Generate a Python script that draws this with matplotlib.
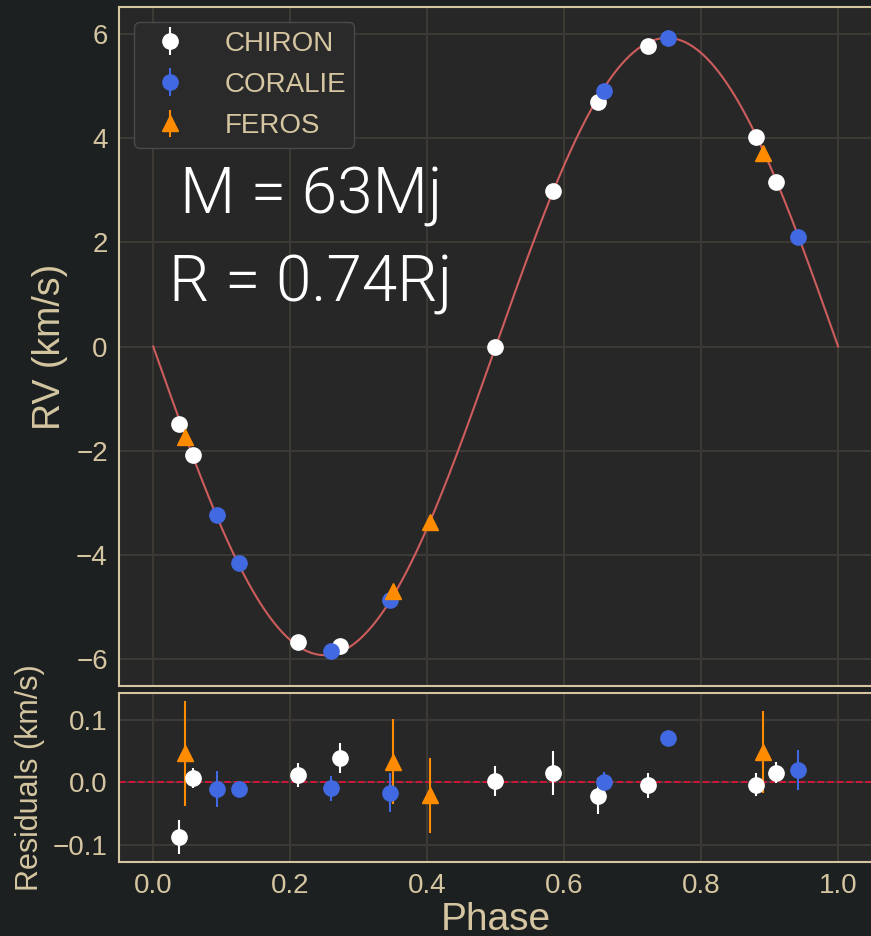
import numpy as np
import matplotlib
matplotlib.use("Agg")
import matplotlib.pyplot as plt

# 🔹 Colours
fig_bg = "#1d2021"
ax_bg = "#272727"
grid_c = "#3d3a36"
beige = "#d5c6a1"

plt.rcParams['font.family'] = ['Liberation Sans', 'DejaVu Sans']

# 🔹 Data
chiron_phase = [0.038, 0.058, 0.212, 0.272, 0.499, 0.584, 0.649, 0.723, 0.880, 0.909]
chiron_rv = [-1.49, -2.09, -5.67, -5.74, 0.00, 2.98, 4.69, 5.76, 4.01, 3.16]
chiron_res = [-0.088, 0.006, 0.012, 0.039, 0.002, 0.015, -0.022, -0.005, -0.004, 0.015]
chiron_err = [0.027, 0.016, 0.019, 0.024, 0.024, 0.035, 0.029, 0.020, 0.018, 0.017]

coralie_phase = [0.093, 0.125, 0.259, 0.345, 0.658, 0.752, 0.941]
coralie_rv = [-3.24, -4.15, -5.84, -4.86, 4.91, 5.91, 2.11]
coralie_res = [-0.011, -0.011, -0.010, -0.017, 0.000, 0.070, 0.020]
coralie_err = [0.029, 0.008, 0.020, 0.031, 0.016, 0.006, 0.032]

feros_phase = [0.047, 0.350, 0.404, 0.890]
feros_rv = [-1.73, -4.69, -3.37, 3.71]
feros_res = [0.046, 0.033, -0.021, 0.048]
feros_err = [0.084, 0.068, 0.060, 0.065]

# model: circular orbit, semi-amplitude in km/s
K = 5.92
model_phase = np.linspace(0, 1, 500)
model_rv = -K * np.sin(2 * np.pi * model_phase)

series = [
    ("CHIRON", chiron_phase, chiron_rv, chiron_res, chiron_err, "white", "o", 11),
    ("CORALIE", coralie_phase, coralie_rv, coralie_res, coralie_err, "royalblue", "o", 11),
    ("FEROS", feros_phase, feros_rv, feros_res, feros_err, "darkorange", "^", 11),
]

fig = plt.figure(figsize=(8.71, 9.36), dpi=100, facecolor=fig_bg)
ax = fig.add_axes([0.1366, 0.2671, 0.865, 0.7254])
axr = fig.add_axes([0.1366, 0.0791, 0.865, 0.1805], sharex=ax)

for a in (ax, axr):
    a.set_facecolor(ax_bg)
    a.grid(True, color=grid_c, lw=1.5)
    a.set_axisbelow(True)
    for s in a.spines.values():
        s.set_color(beige)
        s.set_linewidth(1.5)
    a.tick_params(length=0, colors=beige, labelsize=20, pad=8)

# 🔹 RV panel
ax.plot(model_phase, model_rv, color="indianred", lw=1.5, zorder=2)
for name, ph, rv, res, err, col, mk, ms in series:
    ax.errorbar(ph, rv, yerr=err, fmt=mk, color=col, ms=ms, elinewidth=1.5,
                label=name, zorder=3)

ax.set_ylabel("RV (km/s)", color=beige, fontsize=27, labelpad=6)
ax.set_yticks([-6, -4, -2, 0, 2, 4, 6])
plt.setp(ax.get_xticklabels(), visible=False)

leg = ax.legend(loc="upper left", fontsize=20, handletextpad=0.95, borderpad=0.3,
                labelspacing=0.55, facecolor="#2a2a2a", edgecolor="#4a4a4a",
                framealpha=1, borderaxespad=0.55)
for t in leg.get_texts():
    t.set_color(beige)

ax.text(0.23, 2.55, "M = 63Mj", color="white", fontsize=46, ha="center",
        family="Roboto", fontweight=300)
ax.text(0.23, 0.87, "R = 0.74Rj", color="white", fontsize=46, ha="center",
        family="Roboto", fontweight=300)

# 🔹 Residuals panel
axr.axhline(0, color="crimson", ls="--", lw=1.3, zorder=2)
for name, ph, rv, res, err, col, mk, ms in series:
    axr.errorbar(ph, res, yerr=err, fmt=mk, color=col, ms=ms, elinewidth=1.5,
                 zorder=3)

axr.set_ylabel("Residuals (km/s)", color=beige, fontsize=22, labelpad=6)
axr.set_xlabel("Phase", color=beige, fontsize=28, labelpad=2)
axr.set_xticks([0.0, 0.2, 0.4, 0.6, 0.8, 1.0])
axr.set_yticks([-0.1, 0.0, 0.1])
axr.set_xlim(-0.05, 1.05)

fig.savefig("out.png", dpi=100, facecolor=fig_bg)
plt.close()
